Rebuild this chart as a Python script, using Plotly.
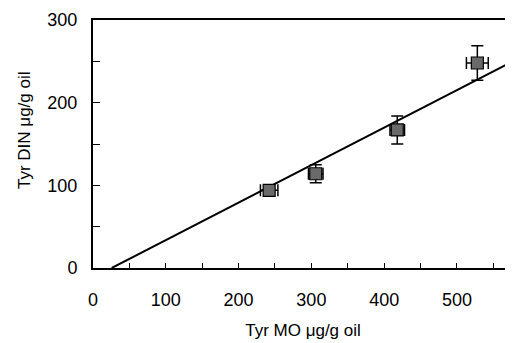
import plotly.graph_objects as go

# Data
tyr_mo = [242, 306, 418, 528]          # x values (µg/g oil)
tyr_din = [94, 114, 167, 248]          # y values (µg/g oil)
mo_err = [12, 10, 10, 15]              # x error
din_err = [5, 11, 17, 21]              # y error

# Trend line parameters
slope = 0.4535
x_intercept = 25.7
x_max = 577
line_x = [x_intercept, x_max]
line_y = [slope * (v - x_intercept) for v in line_x]

x_ticks = [0, 100, 200, 300, 400, 500]
y_ticks = [0, 100, 200, 300]

font_family = "Liberation Sans, Arial, sans-serif"

fig = go.Figure()
fig.add_trace(go.Scatter(
    x=line_x, y=line_y, mode="lines",
    line=dict(color="black", width=2), showlegend=False, cliponaxis=True))
fig.add_trace(go.Scatter(
    x=tyr_mo, y=tyr_din, mode="markers",
    marker=dict(symbol="square", size=12, color="#6a6a6a",
                line=dict(color="black", width=1.2)),
    error_x=dict(type="data", array=mo_err, color="black", thickness=1.5, width=6),
    error_y=dict(type="data", array=din_err, color="black", thickness=1.5, width=6),
    showlegend=False))

# page body has an 8px margin, so the figure is sized/offset to compensate
fig.update_layout(
    width=505, height=335,
    margin=dict(l=85, r=0, t=12, b=75),
    paper_bgcolor="white", plot_bgcolor="white",
    font=dict(family=font_family, size=18, color="black"),
    xaxis=dict(range=[0, x_max], tickvals=x_ticks, ticks="inside", ticklen=5,
               tickwidth=1.2, tickcolor="black",
               minor=dict(dtick=50, tick0=0, ticks="inside", ticklen=5, tickcolor="black", tickwidth=1.2),
               showline=True, linecolor="black", linewidth=2, mirror=True,
               showgrid=False, zeroline=False, ticklabelstandoff=14,
               title=dict(text="Tyr MO \u03bcg/g oil", font=dict(size=17), standoff=16)),
    yaxis=dict(range=[0, 300], tickvals=y_ticks, ticks="inside", ticklen=7,
               tickwidth=1.2, tickcolor="black",
               minor=dict(dtick=50, tick0=0, ticks="inside", ticklen=7, tickcolor="black", tickwidth=1.2),
               showline=True, linecolor="black", linewidth=2,
               showgrid=False, zeroline=False, ticklabelstandoff=10),
    annotations=[dict(text="Tyr DIN \u03bcg/g oil", textangle=-90,
                      xref="paper", yref="paper", x=(24 - 93) / 420, y=(268 - 130) / 248,
                      xanchor="center", yanchor="middle", showarrow=False,
                      font=dict(size=17))],
)

fig.write_html("out.html")
